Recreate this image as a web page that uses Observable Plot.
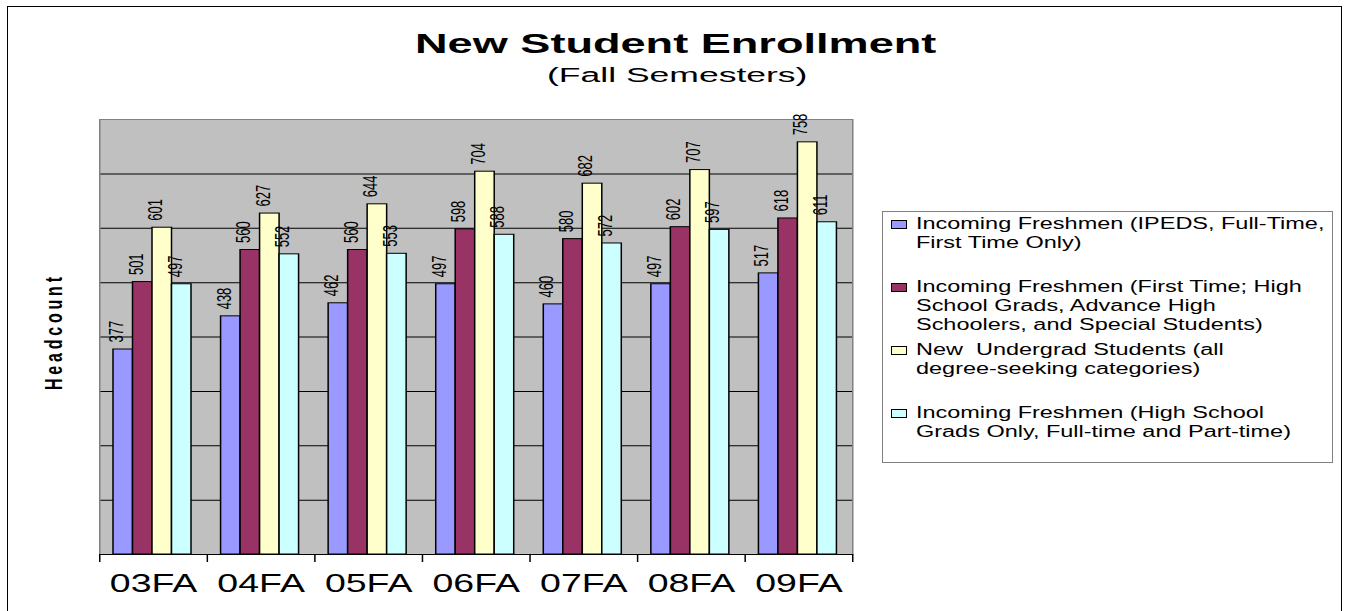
<!DOCTYPE html>
<html><head><meta charset="utf-8">
<script src="https://cdn.jsdelivr.net/npm/d3@7"></script>
<script src="https://cdn.jsdelivr.net/npm/@observablehq/plot@0.6"></script>
<style>
html,body{margin:0;padding:0;background:#fff;}
#page{position:relative;width:1346px;height:611px;overflow:hidden;font-family:"Liberation Sans",Arial,sans-serif;color:#000;}
#border{position:absolute;left:7px;top:6px;width:1335px;height:700px;border:1.5px solid #000;box-sizing:border-box;}
.txt{position:absolute;white-space:pre;transform-origin:0 0;}
#legend{position:absolute;left:882px;top:211px;width:451px;height:252px;border:1px solid #808080;box-sizing:border-box;background:#fff;}
.sw{position:absolute;width:16px;height:9px;border:1px solid #000;box-sizing:border-box;}
#chart{position:absolute;left:0;top:0;}
</style></head><body>
<div id="page"><div id="border"></div><div id="chart"></div></div>
<script>
// ---- data ----
const categories = ["03FA","04FA","05FA","06FA","07FA","08FA","09FA"];
const ipedsFreshmen   = [377, 438, 462, 497, 460, 497, 517];
const firstTimeAll    = [501, 560, 560, 598, 580, 602, 618];
const newUndergrad    = [601, 627, 644, 704, 682, 707, 758];
const hsGradsFreshmen = [497, 552, 553, 588, 572, 597, 611];
const seriesNames = [
  "Incoming Freshmen (IPEDS, Full-Time, First Time Only)",
  "Incoming Freshmen (First Time; High School Grads, Advance High Schoolers, and Special Students)",
  "New  Undergrad Students (all degree-seeking categories)",
  "Incoming Freshmen (High School Grads Only, Full-time and Part-time)"
];
const legendLines = [
  ["Incoming Freshmen (IPEDS, Full-Time,", "First Time Only)"],
  ["Incoming Freshmen (First Time; High", "School Grads, Advance High", "Schoolers, and Special Students)"],
  ["New  Undergrad Students (all", "degree-seeking categories)"],
  ["Incoming Freshmen (High School", "Grads Only, Full-time and Part-time)"]
];
const gridValues = [100, 200, 300, 400, 500, 600, 700];
const yMax = 800;
const titleText = "New Student Enrollment";
const subtitleText = "(Fall Semesters)";
const yTitle = "Headcount";

// ---- styles / layout ----
const colors = ["#9999ff", "#993366", "#ffffcc", "#ccffff"];
const S = 1.5;             // horizontal stretch of the drawing
const W = 580, H = 611;
const mL = 66, mR = 12, mT = 119, mB = 57;
const bw = (W - mL - mR) / categories.length;
const g0 = 14 / S, barW = 19.5 / S;

const seriesValues = [ipedsFreshmen, firstTimeAll, newUndergrad, hsGradsFreshmen];
const seriesData = seriesValues.map((vals, i) =>
  categories.map((c, k) => ({cat: c, value: vals[k], series: seriesNames[i]})));

const marks = [
  Plot.frame({fill: "#c0c0c0", stroke: null}),
  Plot.ruleY(gridValues, {stroke: "#000", strokeWidth: 1}),
  ...seriesData.map((d, i) => Plot.barY(d, {
    x: "cat", y: "value", fill: colors[i], stroke: "#000", strokeWidth: 1,
    insetLeft: g0 + barW * i, insetRight: bw - g0 - barW * (i + 1)
  })),
  Plot.frame({stroke: "#808080", strokeWidth: 1}),
  Plot.ruleY([0], {stroke: "#000", strokeWidth: 1.2}),
  Plot.ruleX(categories, {x: d => d, dx: -bw / 2, insetTop: H - mT - mB, insetBottom: -8, stroke: "#000"}),
  Plot.ruleX([categories[categories.length - 1]], {x: d => d, dx: bw / 2, insetTop: H - mT - mB, insetBottom: -8, stroke: "#000"}),
  ...seriesData.map((d, i) => Plot.text(d, {
    x: "cat", y: "value", text: r => String(r.value), rotate: -90, textAnchor: "start",
    dx: g0 + barW * i + barW / 2 - bw / 2 - 4.5, dy: -7, fontSize: 13, fill: "#000"
  })),
  Plot.axisX({tickSize: 0, tickPadding: 20, fontSize: 25, label: null}),
  Plot.text([yTitle], {frameAnchor: "left", text: d => d, rotate: -90, textAnchor: "middle",
    dx: -30, dy: -3.5, fontWeight: "bold", fontSize: 16, fill: "#000"})
];

const chart = Plot.plot({
  width: W, height: H,
  marginLeft: mL, marginRight: mR, marginTop: mT, marginBottom: mB,
  style: {fontFamily: "'Liberation Sans', Arial, sans-serif", background: "transparent", color: "#000"},
  x: {domain: categories, padding: 0, round: false, label: null},
  y: {domain: [0, yMax], axis: null},
  marks
});
chart.setAttribute("width", W * S);
chart.setAttribute("height", H);
chart.setAttribute("preserveAspectRatio", "none");
chart.style.width = (W * S) + "px";
chart.style.height = H + "px";
chart.style.maxWidth = "none";
d3.select(chart).selectAll("text")
  .filter(function() { return this.textContent === yTitle; })
  .attr("textLength", 113).attr("lengthAdjust", "spacing");
document.getElementById("chart").appendChild(chart);

// ---- title, subtitle, legend (HTML text, stretched like the drawing) ----
const page = document.getElementById("page");
function addText(str, left, top, size, weight, targetWidth, scale) {
  const el = document.createElement("div");
  el.className = "txt";
  el.textContent = str;
  el.style.left = left + "px";
  el.style.top = top + "px";
  el.style.fontSize = size + "px";
  el.style.lineHeight = (weight === "bold" ? size : 19) + "px";
  el.style.fontWeight = weight;
  page.appendChild(el);
  const k = scale || (targetWidth / el.offsetWidth);
  el.style.transform = `scaleX(${k})`;
  return k;
}
addText(titleText, 415, 30, 28, "bold", 522);
addText(subtitleText, 547, 66, 20, "normal", 261);

const legend = document.createElement("div");
legend.id = "legend";
page.appendChild(legend);
let kLeg = null;
legendLines.forEach((lines, j) => {
  const top = 213.6 + 63 * j;
  const sw = document.createElement("div");
  sw.className = "sw";
  sw.style.left = "891px";
  sw.style.top = (top + 6) + "px";
  sw.style.background = colors[j];
  sw.title = seriesNames[j];
  page.appendChild(sw);
  lines.forEach((ln, l) => {
    const k = addText(ln, 916, top + 19 * l, 16, "normal", 409, kLeg);
    if (kLeg === null) kLeg = k;
  });
});
</script></body></html>
